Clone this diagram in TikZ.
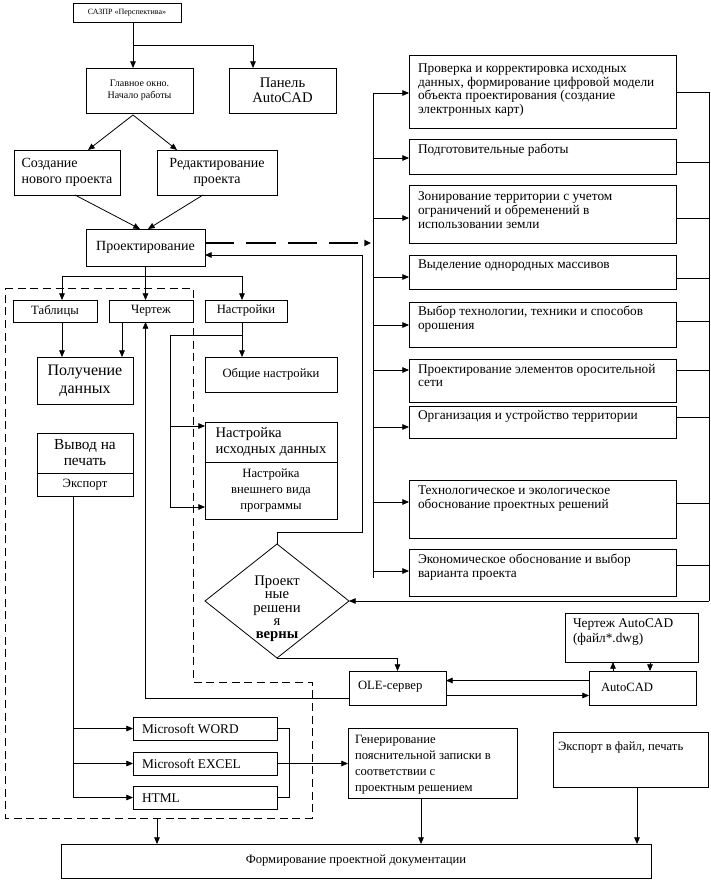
\documentclass[tikz,border=0pt]{standalone}
\usepackage{fontspec}
\setmainfont{Liberation Serif}
\usetikzlibrary{arrows.meta,calc,shapes.geometric}
\newcommand\fsz[2]{\fontsize{#1}{#2}\selectfont}
\newcommand\bx[7][]{\node[box,minimum width={(#5-#3)*0.75pt},minimum height={(#6-#4)*0.75pt},#1] (#2) at ({(#3+#5)/2},{(#4+#6)/2}) {#7};}
\begin{document}
\begin{tikzpicture}[x=0.75pt,y=-0.75pt,
  box/.style={draw,line width=0.6pt,inner sep=0pt,outer sep=0pt,align=center},
  txt/.style={inner sep=0pt,outer sep=0pt,align=left},
  ln/.style={line width=0.6pt},
  arr/.style={ln,-{Triangle[length=5pt,width=4.2pt]}},
  dashbox/.style={ln,dash pattern=on 6pt off 3.5pt},
  bigdash/.style={line width=2.2pt,dash pattern=on 22pt off 9pt,-{Triangle[length=5pt,width=4.6pt]}}]
\useasboundingbox[fill=white] (0,0) rectangle (710,880);
\coordinate (bL) at (373,0);
\coordinate (bR) at (709,0);
\coordinate (rx) at (362,0);
% ---------- top part
\bx[font=\fsz{6}{7}]{sapr}{73}{3}{181}{22}{САЗПР «Перспектива»}
\bx[font=\fsz{7.5}{9}]{glav}{86}{68}{193}{113}{Главное окно.\\Начало работы}
\bx[font=\fsz{11}{11.5}]{panel}{229}{68}{336}{113}{Панель\\AutoCAD}
\bx[align=left,font=\fsz{10.5}{11.5}]{sozd}{14}{150}{120}{195}{Создание\\нового проекта}
\bx[font=\fsz{10.5}{11.5}]{red}{157}{150}{277}{195}{Редактирование\\проекта}
\bx[font=\fsz{10.5}{12}]{proj}{86}{229}{205}{266}{Проектирование}
% ---------- left part
\bx[font=\fsz{9.5}{11}]{tabl}{13}{300}{97}{322}{Таблицы}
\bx[font=\fsz{9.5}{11}]{cher}{109}{300}{193}{322}{Чертеж}
\bx[font=\fsz{9.5}{11}]{nastr}{205}{300}{287}{322}{Настройки}
\bx[font=\fsz{12}{13.5}]{poluch}{37}{357}{133}{404}{Получение\\данных}
\bx[font=\fsz{9.5}{11}]{obsh}{205}{357}{337}{392}{Общие настройки}
\bx[align=left,font=\fsz{11}{11.5}]{nid}{205}{422}{337}{462}{Настройка\\исходных данных}
\bx[font=\fsz{9.5}{12}]{nvv}{205}{462}{337}{519}{Настройка\\внешнего вида\\программы}
\bx[font=\fsz{11.5}{12}]{vyv}{37}{433}{133}{473}{Вывод на\\печать}
\bx[font=\fsz{9.5}{11}]{exp}{37}{473}{133}{496}{Экспорт}
\bx{word}{133}{717}{277}{740}{}
\bx{excel}{133}{752}{277}{775}{}
\bx{html}{133}{786}{277}{809}{}
\node[txt,anchor=west,font=\fsz{10}{11}] (wordT) at (142,729) {Microsoft WORD};
\node[txt,anchor=west,font=\fsz{10}{11}] (excelT) at (142,764) {Microsoft EXCEL};
\node[txt,anchor=west,font=\fsz{10}{11}] (htmlT) at (142,798) {HTML};
% ---------- bottom part
\bx{gen}{348}{728}{517}{798}{}
\node[txt,anchor=north west,font=\fsz{9.5}{12}] (genT) at (355,735) {Генерирование\\пояснительной записки в\\соответствии с\\проектным решением};
\bx{expf}{553}{732}{708}{787}{}
\node[txt,anchor=north west,font=\fsz{9.5}{11}] (expfT) at (558,742) {Экспорт в файл, печать};
\bx[font=\fsz{9.5}{11}]{form}{61}{844}{651}{878}{Формирование проектной документации}
\bx{ole}{349}{671}{446}{705}{}
\node[txt,anchor=west,font=\fsz{9.5}{11}] (oleT) at (358,687) {OLE-сервер};
\bx{acad}{589}{671}{696}{705}{}
\node[txt,anchor=west,font=\fsz{9.5}{11}] (acadT) at (601,687) {AutoCAD};
\bx{chac}{565}{613}{698}{662}{}
\node[txt,anchor=north west,font=\fsz{10}{11}] (chacT) at (573,619) {Чертеж AutoCAD\\(файл*.dwg)};
\node[diamond,draw,ln,inner sep=0pt,outer sep=0pt,minimum width=108pt,minimum height=85.5pt] (dia) at (277,601) {};
\node[txt,align=center,font=\fsz{11}{10}] (diaT) at (277,609) {Проект\\ные\\решени\\я\\\textbf{верны}};
% ---------- right column
\bx{b1}{409}{55}{676}{128}{}
\bx{b2}{409}{139}{676}{174}{}
\bx{b3}{409}{185}{676}{243}{}
\bx{b4}{409}{255}{676}{289}{}
\bx{b5}{409}{302}{676}{347}{}
\bx{b6}{409}{359}{676}{402}{}
\bx{b7}{409}{406}{676}{438}{}
\bx{b8}{409}{480}{676}{538}{}
\bx{b9}{409}{549}{676}{596}{}
\begin{scope}[every node/.append style={txt,anchor=north west,font=\fsz{10}{10.2}}]
\node (b1T) at (418,64) {Проверка и корректировка исходных\\данных, формирование цифровой модели\\объекта проектирования (создание\\электронных карт)};
\node (b2T) at (418,144) {Подготовительные работы};
\node (b3T) at (418,192) {Зонирование территории с учетом\\ограничений и обременений в\\использовании земли};
\node (b4T) at (418,260) {Выделение однородных массивов};
\node (b5T) at (418,306) {Выбор технологии, техники и способов\\орошения};
\node (b6T) at (418,364) {Проектирование элементов оросительной\\сети};
\node (b7T) at (418,410) {Организация и устройство территории};
\node (b8T) at (418,486) {Технологическое и экологическое\\обоснование проектных решений};
\node (b9T) at (418,554) {Экономическое обоснование и выбор\\варианта проекта};
\end{scope}
% ---------- connectors: top
\coordinate (s1) at ($(sapr.south)+(6,0)$);
\draw[arr] (s1) -- (s1 |- glav.north);
\draw[arr] ($(s1)+(0,23)$) -| ($(panel.north)+(-29.5,0)$);
\draw[arr] ($(glav.south)+(-6.5,2)$) -- ($(sozd.north)+(21,0)$);
\draw[arr] ($(glav.south)+(-6.5,2)$) -- ($(red.north)+(-40,0)$);
\draw[arr] ($(sozd.south)+(8,0)$) -- ($(proj.north)+(-5.5,0)$);
\draw[arr] ($(red.south)+(-14,0)$) -- ($(proj.north)+(2.5,0)$);
% branch below Проектирование
\draw[ln] (proj.south) -- ++(0,10) coordinate (br);
\draw[arr] (br) -| ($(tabl.north)+(7,0)$);
\draw[arr] (br) -- (br |- cher.north);
\draw[arr] (br) -| ($(nastr.north)+(-4,0)$);
\coordinate (t1) at ($(tabl.south)+(7,0)$);
\draw[arr] (t1) -- (t1 |- poluch.north);
\coordinate (t2) at ($(cher.south)+(-29,0)$);
\draw[arr] (t2) -- (t2 |- poluch.north);
\coordinate (n1) at ($(nastr.south)+(-4,0)$);
\draw[arr] (n1) -- (n1 |- obsh.north);
\draw[ln] ($(n1)+(0,13)$) -| ($(nvv.west)+(-35,16.5)$);
\draw[arr] ($(nid.west)+(-35,-16)$) -- ($(nid.west)+(0,-16)$);
\draw[arr] ($(nvv.west)+(-35,16.5)$) -- ($(nvv.west)+(0,16.5)$);
% export lines
\coordinate (e1) at ($(exp.south)+(-12,0)$);
\draw[ln] (e1) -- (e1 |- html.west);
\foreach \b in {word,excel,html} \draw[arr] (e1 |- \b.west) -- (\b.west);
\draw[ln] (word.east) -- ++(12,0) |- (html.east);
\draw[arr] (excel.east) -- (excel.east -| gen.west);
% dashed region
\draw[dashbox] (5,288) -- (193,288) -- (193,682) -- (312,682) -- (312,818) -- (5,818) -- cycle;
\coordinate (dB) at (157,818);
\draw[arr] (dB) -- (dB |- form.north);
\coordinate (g1) at ($(gen.south)+(-11.5,0)$);
\draw[arr] (g1) -- (g1 |- form.north);
\coordinate (g2) at ($(expf.south)+(6.5,0)$);
\draw[arr] (g2) -- (g2 |- form.north);
% Проектирование -> right column
\draw[bigdash] ($(proj.east)+(0,-4.5)$) -- ($(bL |- proj.east)+(-2,-4.5)$);
\draw[ln] ($(bL |- b1.west)+(0,1.5)$) -- ($(bL |- b9.west)+(0,5.5)$);
\foreach \n/\a/\r in {b1/1.5/0.5,b2/1.5/5.5,b3/4/4,b4/5/6,b5/0.5/-3.5,b6/-10.5/-10.5,b7/5/-5,b8/-7/-6,b9/-1.5/-7.5}{
  \draw[arr] ($(bL |- \n.west)+(0,\a)$) -- ($(\n.west)+(0,\a)$);
  \draw[ln] ($(\n.east)+(0,\r)$) -- ($(bR |- \n.east)+(0,\r)$);
}
\draw[ln] ($(bR |- b1.east)+(0,0.5)$) -- (bR |- dia.east);
\draw[arr] (bR |- dia.east) -- (dia.east);
% diamond connections
\draw[arr] (dia.north) -- ($(dia.north)+(0,-12)$) -| ($(rx |- proj.east)+(0,7.5)$) -- ($(proj.east)+(0,7.5)$);
\draw[arr] (dia.south) -| (ole.north);
% OLE / AutoCAD
\draw[arr] ($(acad.west)+(0,-7.5)$) -- ($(ole.east)+(0,-7.5)$);
\draw[arr] ($(ole.east)+(0,7.5)$) -- ($(acad.west)+(0,7.5)$);
\coordinate (u1) at ($(acad.north)+(-29.5,0)$);
\draw[arr] (u1) -- (u1 |- chac.south);
\coordinate (u2) at ($(acad.north)+(7.5,0)$);
\draw[arr] (u2 |- chac.south) -- (u2);
\draw[arr] ($(ole.west)+(0,10.5)$) -| (br |- cher.south);
\end{tikzpicture}
\end{document}
